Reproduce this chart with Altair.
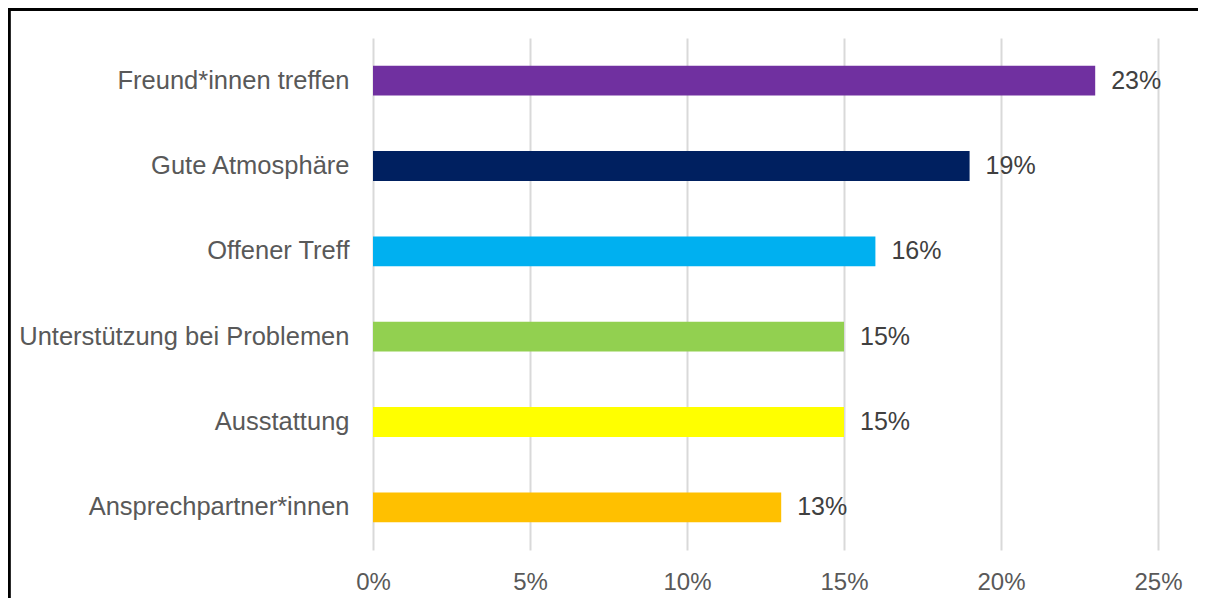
import altair as alt
import pandas as pd

categories = ["Freund*innen treffen", "Gute Atmosphäre", "Offener Treff",
              "Unterstützung bei Problemen", "Ausstattung", "Ansprechpartner*innen"]
values = [0.23, 0.19, 0.16, 0.15, 0.15, 0.13]
colors = ["#7030A0", "#002060", "#00B0F0", "#92D050", "#FFFF00", "#FFC000"]
x_ticks = [0, 0.05, 0.10, 0.15, 0.20, 0.25]

df = pd.DataFrame({"cat": categories, "val": values})

W, H = 785, 512

y_enc = alt.Y("cat:N", sort=categories, title=None,
              scale=alt.Scale(paddingInner=0.65, paddingOuter=0.325),
              axis=alt.Axis(domain=False, ticks=False, labelPadding=24,
                            labelFont="Liberation Sans", labelFontSize=25.5,
                            labelColor="#595959", labelLimit=400))
x_enc = alt.X("val:Q", title=None,
              scale=alt.Scale(domain=[0, 0.25], nice=False),
              axis=alt.Axis(values=x_ticks, format=".0%", domain=False, ticks=False,
                            labelFlush=False, labelPadding=20,
                            labelFont="Liberation Sans",
                            labelFontSize=24, labelColor="#595959",
                            grid=True, gridColor="#D9D9D9", gridWidth=2))

bars = alt.Chart(df).mark_bar().encode(
    x=x_enc,
    y=y_enc,
    color=alt.Color("cat:N", scale=alt.Scale(domain=categories, range=colors), legend=None),
)

labels = alt.Chart(df).mark_text(align="left", baseline="middle", dx=16,
                                 font="Liberation Sans", fontSize=25,
                                 color="#404040").encode(
    x="val:Q",
    y=alt.Y("cat:N", sort=categories),
    text=alt.Text("val:Q", format=".0%"),
)

top_border = alt.Chart(df).mark_rule(color="black", strokeWidth=2.5).encode(
    x=alt.value(-366), x2=alt.value(825), y=alt.value(-28.8)
)
left_border = alt.Chart(df).mark_rule(color="black", strokeWidth=2.5).encode(
    x=alt.value(-364), y=alt.value(-30), y2=alt.value(600)
)

chart = alt.layer(bars, labels, top_border, left_border).properties(
    width=W, height=H,
    autosize=alt.AutoSizeParams(type="none"),
    padding={"left": 365, "top": 30, "right": 45, "bottom": 48},
).configure(background="white").configure_view(stroke=None)

chart.save("out.html", embed_options={"renderer": "svg", "actions": False})
